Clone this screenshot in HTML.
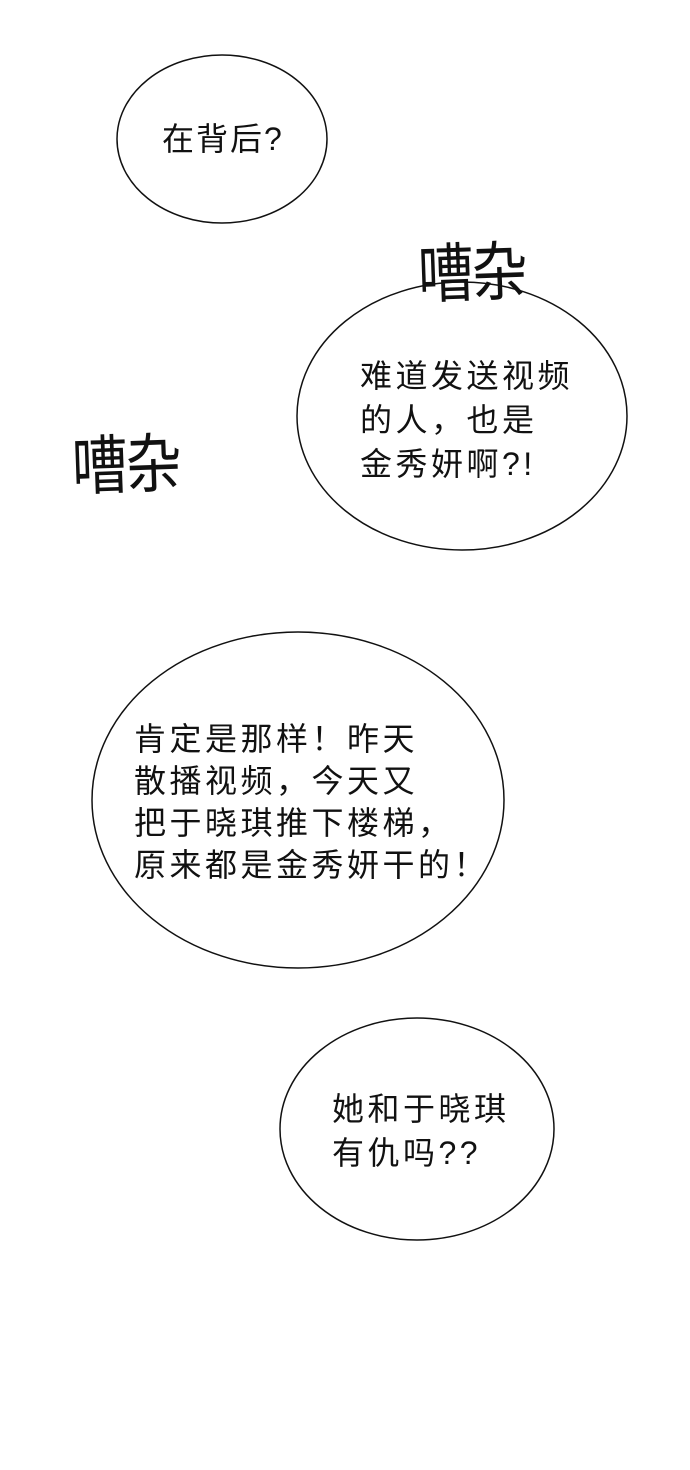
<!DOCTYPE html>
<html><head><meta charset="utf-8"><style>
html,body{margin:0;padding:0;background:#fff;}
body{width:690px;height:1470px;position:relative;overflow:hidden;font-family:"Liberation Sans","Noto Sans CJK SC",sans-serif;color:#111;}
.t{position:absolute;font-size:32px;letter-spacing:3.5px;line-height:43px;white-space:nowrap;}
.sfx{position:absolute;font-family:"WenQuanYi Zen Hei","Noto Sans CJK SC",sans-serif;font-weight:normal;font-size:56px;letter-spacing:-2px;white-space:nowrap;transform:rotate(-2deg) scaleY(1.15);transform-origin:left top;}
</style></head><body>
<svg width="690" height="1470" style="position:absolute;left:0;top:0">
<g fill="#fff" stroke="#111" stroke-width="1.5">
<ellipse cx="222" cy="139" rx="105" ry="84"/>
<ellipse cx="462" cy="416" rx="165" ry="134"/>
<ellipse cx="298" cy="800" rx="206" ry="168"/>
<ellipse cx="417" cy="1129" rx="137" ry="111"/>
</g>
</svg>
<div class="sfx" style="left:416px;top:224px;">嘈杂</div>
<div class="sfx" style="left:70px;top:416px;">嘈杂</div>
<div class="t" style="left:162px;top:118px;letter-spacing:2px;">在背后?</div>
<div class="t" style="left:360px;top:354px;line-height:44px;">难道发送视频<br>的人，也是<br>金秀妍啊?!</div>
<div class="t" style="left:134px;top:718px;line-height:42px;letter-spacing:3.5px;">肯定是那样！昨天<br>散播视频，今天又<br>把于晓琪推下楼梯，<br>原来都是金秀妍干的！</div>
<div class="t" style="left:332px;top:1087px;line-height:44px;">她和于晓琪<br>有仇吗??</div>
</body></html>
